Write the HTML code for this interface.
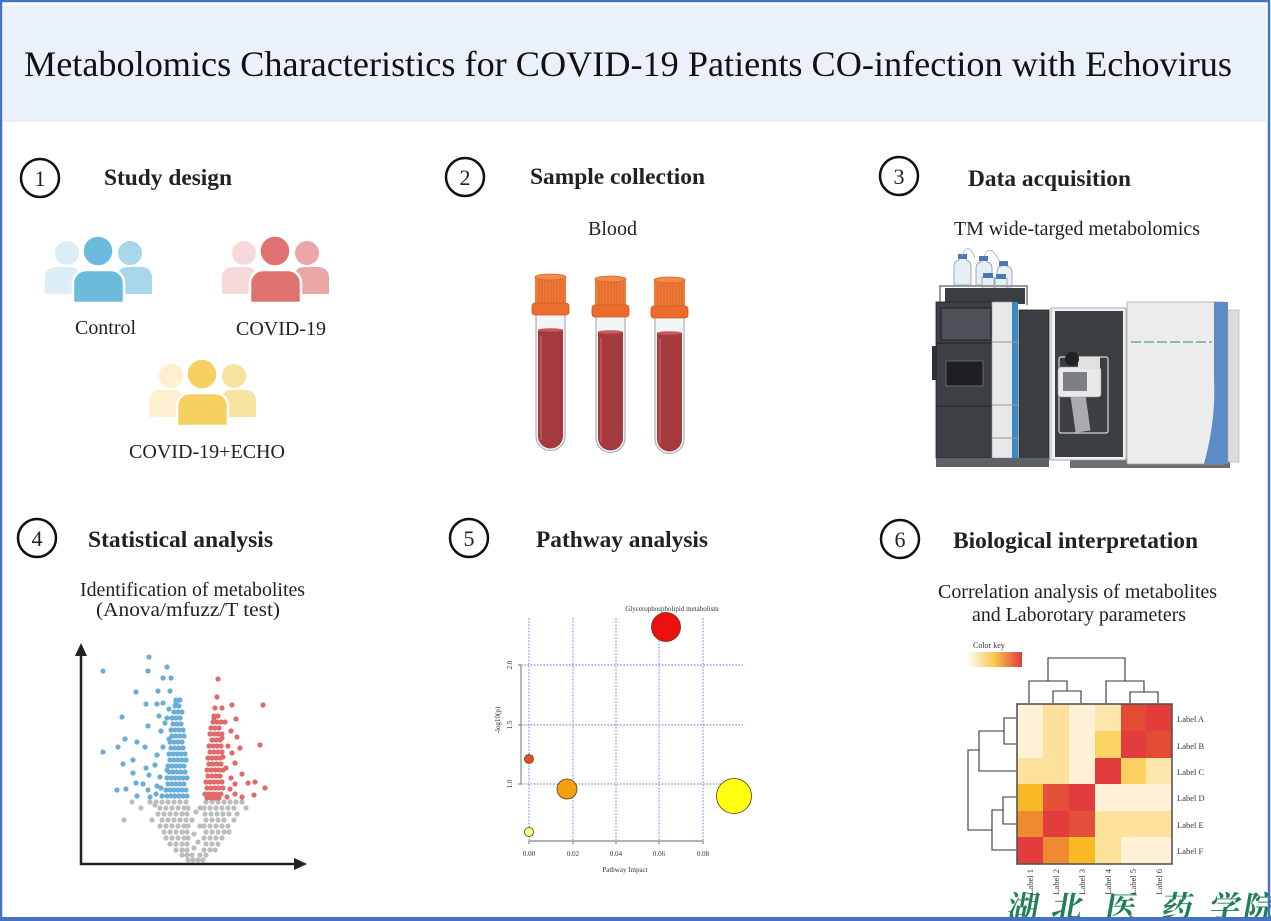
<!DOCTYPE html>
<html><head><meta charset="utf-8"><style>
html,body{margin:0;padding:0;background:#fff;}
svg{display:block;}
text{font-family:"Liberation Serif","Noto Serif CJK SC",serif;fill:#111;}
.h{font-weight:bold;font-size:23px;fill:#222;}
.t{font-size:20px;fill:#222;}
.n{font-size:22px;fill:#222;}
.s{font-size:7px;fill:#333;}
.l{font-size:8.5px;fill:#333;}
</style></head><body>
<svg width="1271" height="921" viewBox="0 0 1271 921" xmlns="http://www.w3.org/2000/svg">
<rect x="0" y="0" width="1271" height="921" fill="#fff"/>
<!-- header -->
<rect x="3" y="5" width="1263" height="117" fill="#eaf1fa"/>
<text x="24" y="76" font-size="36" textLength="1208" lengthAdjust="spacingAndGlyphs" style="fill:#111">Metabolomics Characteristics for COVID-19 Patients CO-infection with Echovirus</text>

<!-- section numbers -->
<g fill="none" stroke="#111" stroke-width="2.5">
<circle cx="40" cy="178" r="19"/><circle cx="465" cy="177" r="19"/><circle cx="899" cy="176" r="19"/>
<circle cx="37" cy="538" r="19"/><circle cx="469" cy="538" r="19"/><circle cx="900" cy="539" r="19"/>
</g>
<g class="n" text-anchor="middle">
<text class="n" x="40" y="186">1</text><text class="n" x="465" y="185">2</text><text class="n" x="899" y="184">3</text>
<text class="n" x="37" y="546">4</text><text class="n" x="469" y="546">5</text><text class="n" x="900" y="547">6</text>
</g>
<text class="h" x="104" y="185" textLength="128" lengthAdjust="spacingAndGlyphs">Study design</text>
<text class="h" x="530" y="184" textLength="175" lengthAdjust="spacingAndGlyphs">Sample collection</text>
<text class="h" x="968" y="186" textLength="163" lengthAdjust="spacingAndGlyphs">Data acquisition</text>
<text class="h" x="88" y="547" textLength="185" lengthAdjust="spacingAndGlyphs">Statistical analysis</text>
<text class="h" x="536" y="547" textLength="172" lengthAdjust="spacingAndGlyphs">Pathway analysis</text>
<text class="h" x="953" y="548" textLength="245" lengthAdjust="spacingAndGlyphs">Biological interpretation</text>

<text class="t" x="588" y="235" textLength="49" lengthAdjust="spacingAndGlyphs">Blood</text>
<text class="t" x="954" y="235" textLength="246" lengthAdjust="spacingAndGlyphs">TM wide-targed metabolomics</text>
<text class="t" x="75" y="334" textLength="61" lengthAdjust="spacingAndGlyphs">Control</text>
<text class="t" x="236" y="335" textLength="90" lengthAdjust="spacingAndGlyphs">COVID-19</text>
<text class="t" x="129" y="458" textLength="156" lengthAdjust="spacingAndGlyphs">COVID-19+ECHO</text>
<text class="t" x="80" y="596" textLength="225" lengthAdjust="spacingAndGlyphs">Identification of metabolites</text>
<text class="t" x="96" y="616" textLength="184" lengthAdjust="spacingAndGlyphs">(Anova/mfuzz/T test)</text>
<text class="t" x="938" y="598" textLength="279" lengthAdjust="spacingAndGlyphs">Correlation analysis of metabolites</text>
<text class="t" x="972" y="621" textLength="214" lengthAdjust="spacingAndGlyphs">and Laborotary parameters</text>

<!-- people icons: Control -->
<g>
 <path fill="#dcedf6" d="M45,294 V277 A10,10 0 0 1 55,267 H70 A10,10 0 0 1 80,277 V294 Z"/>
 <circle fill="#dcedf6" cx="67" cy="253" r="13" stroke="#fff" stroke-width="2"/>
 <path fill="#a8d6ea" d="M117,294 V277 A10,10 0 0 1 127,267 H142 A10,10 0 0 1 152,277 V294 Z"/>
 <circle fill="#a8d6ea" cx="130" cy="253" r="13" stroke="#fff" stroke-width="2"/>
 <path fill="#6cbbdd" d="M73,303 V283 A13,13 0 0 1 86,270 H111 A13,13 0 0 1 124,283 V303 Z" stroke="#fff" stroke-width="2.5"/>
 <circle fill="#6cbbdd" cx="98" cy="251" r="15.5" stroke="#fff" stroke-width="2.5"/>
</g>
<!-- COVID-19 -->
<g transform="translate(177,0)">
 <path fill="#f6dada" d="M45,294 V277 A10,10 0 0 1 55,267 H70 A10,10 0 0 1 80,277 V294 Z"/>
 <circle fill="#f6dada" cx="67" cy="253" r="13" stroke="#fff" stroke-width="2"/>
 <path fill="#eba6a6" d="M117,294 V277 A10,10 0 0 1 127,267 H142 A10,10 0 0 1 152,277 V294 Z"/>
 <circle fill="#eba6a6" cx="130" cy="253" r="13" stroke="#fff" stroke-width="2"/>
 <path fill="#e07272" d="M73,303 V283 A13,13 0 0 1 86,270 H111 A13,13 0 0 1 124,283 V303 Z" stroke="#fff" stroke-width="2.5"/>
 <circle fill="#e07272" cx="98" cy="251" r="15.5" stroke="#fff" stroke-width="2.5"/>
</g>
<!-- ECHO -->
<g transform="translate(104,123)">
 <path fill="#fcf0d0" d="M45,294 V277 A10,10 0 0 1 55,267 H70 A10,10 0 0 1 80,277 V294 Z"/>
 <circle fill="#fcf0d0" cx="67" cy="253" r="13" stroke="#fff" stroke-width="2"/>
 <path fill="#f8e2a0" d="M117,294 V277 A10,10 0 0 1 127,267 H142 A10,10 0 0 1 152,277 V294 Z"/>
 <circle fill="#f8e2a0" cx="130" cy="253" r="13" stroke="#fff" stroke-width="2"/>
 <path fill="#f6d060" d="M73,303 V283 A13,13 0 0 1 86,270 H111 A13,13 0 0 1 124,283 V303 Z" stroke="#fff" stroke-width="2.5"/>
 <circle fill="#f6d060" cx="98" cy="251" r="15.5" stroke="#fff" stroke-width="2.5"/>
</g>

<!-- blood tubes -->
<defs>
<g id="tube">
 <path d="M536,312 V436 A14.5,14.5 0 0 0 565,436 V312 Z" fill="#f3f5f7" stroke="#a9b0b6" stroke-width="1.2"/>
 <path d="M538,330 V436 A12.5,12.5 0 0 0 563,436 V330 Z" fill="#a53a3e"/>
 <ellipse cx="550.5" cy="330" rx="12.5" ry="1.8" fill="#c75a5c"/>
 <line x1="541" y1="336" x2="541" y2="440" stroke="#c86464" stroke-width="1.3"/>
 <rect x="535" y="276" width="31" height="29" rx="2" fill="#f07a3a"/>
 <g stroke="#d8621f" stroke-width="0.8">
  <line x1="539" y1="280" x2="539" y2="303"/><line x1="542" y1="280" x2="542" y2="303"/><line x1="545" y1="280" x2="545" y2="303"/><line x1="548" y1="280" x2="548" y2="303"/><line x1="551" y1="280" x2="551" y2="303"/><line x1="554" y1="280" x2="554" y2="303"/><line x1="557" y1="280" x2="557" y2="303"/><line x1="560" y1="280" x2="560" y2="303"/><line x1="563" y1="280" x2="563" y2="303"/>
 </g>
 <ellipse cx="550.5" cy="277" rx="15.5" ry="3" fill="#f48a4a" stroke="#d8621f" stroke-width="0.8"/>
 <rect x="532" y="303" width="37" height="12" rx="3" fill="#ec6c2c" stroke="#d05a1a" stroke-width="0.8"/>
</g>
</defs>
<use href="#tube"/>
<use href="#tube" transform="translate(60,2)"/>
<use href="#tube" transform="translate(119,3)"/>

<!-- instrument -->
<g>
 <path d="M954,285 V266 Q954,261 959,260 V256 H966 V260 Q971,261 971,266 V285 Z" fill="#e6eef6" stroke="#8a9aa8" stroke-width="0.8"/>
 <rect x="958" y="254" width="9" height="5" fill="#4a78b0"/>
 <path d="M976,285 V268 Q976,263 981,262 V258 H987 V262 Q992,263 992,268 V285 Z" fill="#e6eef6" stroke="#8a9aa8" stroke-width="0.8"/>
 <rect x="979" y="256" width="9" height="5" fill="#4a78b0"/>
 <path d="M997,287 V272 Q997,267 1001,266 V263 H1007 V266 Q1012,267 1012,272 V287 Z" fill="#e6eef6" stroke="#8a9aa8" stroke-width="0.8"/>
 <rect x="999" y="261" width="9" height="5" fill="#4a78b0"/>
 <rect x="982" y="277" width="12" height="14" fill="#e6eef6" stroke="#8a9aa8" stroke-width="0.8"/>
 <rect x="983" y="273" width="10" height="5" fill="#4a78b0"/>
 <rect x="995" y="278" width="12" height="13" fill="#e6eef6" stroke="#8a9aa8" stroke-width="0.8"/>
 <rect x="996" y="274" width="10" height="5" fill="#4a78b0"/>
 <path d="M962,256 Q968,240 975,258 M984,256 Q990,242 1000,262" fill="none" stroke="#aab" stroke-width="0.8"/>
 <rect x="945" y="288" width="80" height="16" fill="#3a3d42"/>
 <path d="M940,305 V286 H1027 V305" fill="none" stroke="#999" stroke-width="2"/>
 <rect x="936" y="302" width="57" height="156" fill="#3c3f44" stroke="#222" stroke-width="0.8"/>
 <rect x="941" y="308" width="50" height="32" fill="#4d5056" stroke="#222" stroke-width="1"/>
 <line x1="936" y1="343" x2="993" y2="343" stroke="#222"/>
 <line x1="936" y1="406" x2="993" y2="406" stroke="#222"/>
 <rect x="946" y="361" width="37" height="25" fill="#1e1f22" stroke="#666" stroke-width="1"/>
 <rect x="932" y="346" width="5" height="34" fill="#2e3034"/>
 <rect x="992" y="302" width="21" height="156" fill="#e6e8ea" stroke="#999" stroke-width="0.6"/>
 <rect x="1012" y="302" width="6" height="156" fill="#3b8ac2"/>
 <line x1="992" y1="342" x2="1018" y2="342" stroke="#999"/>
 <line x1="992" y1="405" x2="1018" y2="405" stroke="#999"/>
 <line x1="992" y1="438" x2="1018" y2="438" stroke="#999"/>
 <rect x="1019" y="310" width="30" height="150" fill="#3a3d42" stroke="#222" stroke-width="0.8"/>
 <rect x="936" y="458" width="113" height="9" fill="#5e6166"/>
 <rect x="1070" y="458" width="160" height="10" fill="#6c6f74"/>
 <rect x="1051" y="308" width="75" height="152" fill="#f2f2f2" stroke="#999" stroke-width="0.8"/>
 <rect x="1055" y="311" width="68" height="146" fill="#3b3e43"/>
 <rect x="1059" y="357" width="49" height="76" rx="2" fill="none" stroke="#d8d8d8" stroke-width="1.2"/>
 <rect x="1070" y="392" width="15" height="40" fill="#a9abae" transform="rotate(-8 1077 392)"/>
 <rect x="1058" y="367" width="43" height="30" rx="3" fill="#e9e9ea" stroke="#999" stroke-width="0.6"/>
 <rect x="1063" y="372" width="24" height="19" fill="#7b7e82"/>
 <rect x="1078" y="357" width="22" height="12" fill="#e0e0e0"/>
 <circle cx="1072" cy="359" r="7" fill="#222"/>
 <rect x="1127" y="302" width="96" height="162" fill="#ececed" stroke="#aaa" stroke-width="0.8"/>
 <path d="M1214,302 H1228 V464 H1204 Q1216,420 1214,380 Z" fill="#5c8cc6"/>
 <rect x="1228" y="310" width="11" height="152" fill="#dcdcdd" stroke="#aaa" stroke-width="0.6"/>
 <line x1="1131" y1="342" x2="1212" y2="342" stroke="#4aa878" stroke-width="1.2" stroke-dasharray="10 3"/>
</g>

<!-- volcano -->
<g fill="none" stroke-linecap="round" stroke-width="5.2">
<path stroke="#bdbdbd" d="M132,802h0M150,802h0M156,802h0M162,802h0M168,802h0M174,802h0M180,802h0M186,802h0M206,802h0M212,802h0M218,802h0M224,802h0M230,802h0M236,802h0M242,802h0
M141,808h0M160,808h0M166,808h0M172,808h0M178,808h0M184,808h0M188,808h0M204,808h0M210,808h0M216,808h0M222,808h0M228,808h0M234,808h0M246,808h0
M158,814h0M164,814h0M170,814h0M176,814h0M182,814h0M187,814h0M205,814h0M211,814h0M217,814h0M223,814h0M229,814h0M237,814h0
M124,820h0M152,820h0M162,820h0M168,820h0M174,820h0M180,820h0M186,820h0M206,820h0M212,820h0M218,820h0M224,820h0M234,820h0
M160,826h0M166,826h0M172,826h0M178,826h0M184,826h0M188,826h0M204,826h0M210,826h0M216,826h0M222,826h0M228,826h0
M164,832h0M170,832h0M176,832h0M182,832h0M187,832h0M206,832h0M212,832h0M218,832h0M224,832h0M229,832h0
M166,838h0M172,838h0M178,838h0M184,838h0M188,838h0M204,838h0M210,838h0M216,838h0M222,838h0
M170,844h0M176,844h0M182,844h0M187,844h0M206,844h0M212,844h0M218,844h0
M176,850h0M182,850h0M187,850h0M204,850h0M210,850h0M215,850h0
M182,855h0M187,855h0M192,855h0M200,855h0M206,855h0M188,860h0M193,860h0M198,860h0M203,860h0
M155,805h0M200,808h0M196,812h0M192,820h0M200,826h0M194,834h0M198,842h0M194,848h0"/>
<path stroke="#6aaed6" d="M103,671h0M149,657h0M148,671h0M167,667h0M163,678h0M171,678h0M136,692h0M158,691h0M170,691h0M146,704h0M157,704h0M163,703h0M176,703h0M122,717h0M159,716h0M169,709h0M167,718h0M148,726h0M165,723h0M161,731h0M125,739h0M137,742h0M118,747h0M103,752h0M145,747h0M163,747h0M169,739h0M133,760h0M123,764h0M157,755h0M146,768h0M155,765h0M133,773h0M149,775h0M136,783h0M143,784h0M160,777h0M167,770h0M117,790h0M126,789h0M148,790h0M157,786h0M137,796h0M150,797h0M156,794h0M161,788h0M167,796h0M162,796h0
M176,700h0M180,700h0M175,706h0M179,706h0M174,712h0M178,712h0M182,712h0M172,718h0M176,718h0M180,718h0M173,724h0M177,724h0M181,724h0M171,730h0M175,730h0M179,730h0M183,730h0M172,736h0M176,736h0M180,736h0M184,736h0M170,742h0M174,742h0M178,742h0M182,742h0M171,748h0M175,748h0M179,748h0M183,748h0M169,754h0M173,754h0M177,754h0M181,754h0M185,754h0M170,760h0M174,760h0M178,760h0M182,760h0M186,760h0M168,766h0M172,766h0M176,766h0M180,766h0M184,766h0M169,772h0M173,772h0M177,772h0M181,772h0M185,772h0M167,778h0M171,778h0M175,778h0M179,778h0M183,778h0M187,778h0M168,784h0M172,784h0M176,784h0M180,784h0M184,784h0M166,790h0M170,790h0M174,790h0M178,790h0M182,790h0M186,790h0M167,796h0M171,796h0M175,796h0M179,796h0M183,796h0M187,796h0"/>
<path stroke="#e06a6a" d="M218,679h0M217,697h0M215,708h0M222,708h0M232,705h0M263,705h0M214,718h0M225,722h0M236,719h0M231,731h0M237,737h0M222,738h0M228,746h0M240,748h0M260,745h0M223,757h0M232,753h0M235,763h0M226,768h0M242,774h0M231,778h0M235,784h0M230,789h0M248,783h0M255,782h0M265,788h0M254,795h0M242,797h0M235,794h0M227,797h0M223,788h0
M214,716h0M218,716h0M213,722h0M217,722h0M221,722h0M211,728h0M215,728h0M219,728h0M210,734h0M214,734h0M218,734h0M222,734h0M212,740h0M216,740h0M220,740h0M209,746h0M213,746h0M217,746h0M221,746h0M210,752h0M214,752h0M218,752h0M222,752h0M208,758h0M212,758h0M216,758h0M220,758h0M209,764h0M213,764h0M217,764h0M221,764h0M207,770h0M211,770h0M215,770h0M219,770h0M223,770h0M208,776h0M212,776h0M216,776h0M220,776h0M206,782h0M210,782h0M214,782h0M218,782h0M222,782h0M207,788h0M211,788h0M215,788h0M219,788h0M223,788h0M205,794h0M209,794h0M213,794h0M217,794h0M221,794h0M207,798h0M211,798h0M215,798h0M219,798h0"/>
</g>
<g stroke="#222" stroke-width="2.5" fill="none">
<path d="M81,652 V864 H299"/>
</g>
<path d="M81,643 L75,656 L87,656 Z" fill="#222"/>
<path d="M307,864 L294,858 L294,870 Z" fill="#222"/>

<!-- pathway plot -->
<g stroke="#6a6ae8" stroke-width="0.9" stroke-dasharray="1.6 1.6" fill="none">
<line x1="529" y1="618" x2="529" y2="840"/><line x1="573" y1="618" x2="573" y2="840"/><line x1="616" y1="618" x2="616" y2="840"/><line x1="659" y1="618" x2="659" y2="840"/><line x1="703" y1="618" x2="703" y2="840"/>
<line x1="521" y1="665" x2="743" y2="665"/><line x1="521" y1="725" x2="743" y2="725"/><line x1="521" y1="784" x2="743" y2="784"/>
</g>
<g stroke="#888" stroke-width="1.2" fill="none">
<path d="M518,665 H521 V784 H518 M518,725 H521"/>
<path d="M529,844 V841 H703 V844 M573,841 V844 M616,841 V844 M659,841 V844"/>
</g>
<g class="s">
<text class="s" transform="translate(512,665) rotate(-90)" text-anchor="middle">2.0</text>
<text class="s" transform="translate(512,725) rotate(-90)" text-anchor="middle">1.5</text>
<text class="s" transform="translate(512,784) rotate(-90)" text-anchor="middle">1.0</text>
<text class="s" transform="translate(500,720) rotate(-90)" text-anchor="middle">-log10(p)</text>
<text class="s" x="529" y="856" text-anchor="middle">0.00</text>
<text class="s" x="573" y="856" text-anchor="middle">0.02</text>
<text class="s" x="616" y="856" text-anchor="middle">0.04</text>
<text class="s" x="659" y="856" text-anchor="middle">0.06</text>
<text class="s" x="703" y="856" text-anchor="middle">0.08</text>
<text class="s" x="625" y="872" text-anchor="middle">Pathway Impact</text>
<text class="s" x="672" y="611" text-anchor="middle">Glycerophospholipid metabolism</text>
</g>
<g stroke="#5a3a10" stroke-width="0.8">
<circle cx="666" cy="627" r="14.5" fill="#ee1010"/>
<circle cx="734" cy="796" r="17.5" fill="#ffff10"/>
<circle cx="567" cy="789" r="10" fill="#f6a010"/>
<circle cx="529" cy="759" r="4.5" fill="#e8501a"/>
<circle cx="529" cy="832" r="4.5" fill="#ffff80"/>
</g>

<!-- heatmap -->
<defs><linearGradient id="ck" x1="0" x2="1" y1="0" y2="0">
<stop offset="0" stop-color="#fffcf0"/><stop offset="0.5" stop-color="#f9c64a"/><stop offset="1" stop-color="#e03a3a"/></linearGradient></defs>
<text class="s" x="973" y="648" style="font-size:8px">Color key</text>
<rect x="968" y="652" width="54" height="15" fill="url(#ck)"/>
<g>
<rect x="1017" y="704" width="26" height="27" fill="#fef1d6"/><rect x="1043" y="704" width="26" height="27" fill="#fde29c"/><rect x="1069" y="704" width="26" height="27" fill="#fef1d6"/><rect x="1095" y="704" width="26" height="27" fill="#fde6ae"/><rect x="1121" y="704" width="25" height="27" fill="#e24c32"/><rect x="1146" y="704" width="26" height="27" fill="#e23c3c"/>
<rect x="1017" y="731" width="26" height="27" fill="#fef1d6"/><rect x="1043" y="731" width="26" height="27" fill="#fde29c"/><rect x="1069" y="731" width="26" height="27" fill="#fef1d6"/><rect x="1095" y="731" width="26" height="27" fill="#fcd466"/><rect x="1121" y="731" width="25" height="27" fill="#e23c3c"/><rect x="1146" y="731" width="26" height="27" fill="#e24c32"/>
<rect x="1017" y="758" width="26" height="26" fill="#fde29c"/><rect x="1043" y="758" width="26" height="26" fill="#fde29c"/><rect x="1069" y="758" width="26" height="26" fill="#fef1d6"/><rect x="1095" y="758" width="26" height="26" fill="#e23c3c"/><rect x="1121" y="758" width="25" height="26" fill="#fcd060"/><rect x="1146" y="758" width="26" height="26" fill="#fde6ae"/>
<rect x="1017" y="784" width="26" height="27" fill="#f9b925"/><rect x="1043" y="784" width="26" height="27" fill="#e5503a"/><rect x="1069" y="784" width="26" height="27" fill="#e23c3c"/><rect x="1095" y="784" width="77" height="27" fill="#fef1d6"/>
<rect x="1017" y="811" width="26" height="26" fill="#ee8a30"/><rect x="1043" y="811" width="26" height="26" fill="#e23c3c"/><rect x="1069" y="811" width="26" height="26" fill="#e5503a"/><rect x="1095" y="811" width="77" height="26" fill="#fde29c"/>
<rect x="1017" y="837" width="26" height="27" fill="#e23c3c"/><rect x="1043" y="837" width="26" height="27" fill="#ee8a30"/><rect x="1069" y="837" width="26" height="27" fill="#f9b925"/><rect x="1095" y="837" width="26" height="27" fill="#fde29c"/><rect x="1121" y="837" width="51" height="27" fill="#fef1d6"/>
</g>
<rect x="1017" y="704" width="155" height="160" fill="none" stroke="#555" stroke-width="1.6"/>
<g stroke="#333" stroke-width="1.1" fill="none">
<path d="M1130,703 V692 H1158 V703"/>
<path d="M1106,703 V681 H1144 V692"/>
<path d="M1053,703 V691 H1081 V703"/>
<path d="M1029,703 V681 H1067 V691"/>
<path d="M1048,681 V658 H1125 V681"/>
<path d="M1016,718 H1004 V744 H1016"/>
<path d="M1004,731 H979 V771 H1016"/>
<path d="M1016,797 H1003 V824 H1016"/>
<path d="M1003,810 H992 V850 H1016"/>
<path d="M979,750 H968 V830 H992"/>
</g>
<g class="l">
<text class="l" x="1177" y="722">Label A</text>
<text class="l" x="1177" y="749">Label B</text>
<text class="l" x="1177" y="775">Label C</text>
<text class="l" x="1177" y="801">Label D</text>
<text class="l" x="1177" y="828">Label E</text>
<text class="l" x="1177" y="854">Label F</text>
<text class="l" transform="translate(1033,869) rotate(-90)" text-anchor="end">Label 1</text>
<text class="l" transform="translate(1059,869) rotate(-90)" text-anchor="end">Label 2</text>
<text class="l" transform="translate(1085,869) rotate(-90)" text-anchor="end">Label 3</text>
<text class="l" transform="translate(1111,869) rotate(-90)" text-anchor="end">Label 4</text>
<text class="l" transform="translate(1136,869) rotate(-90)" text-anchor="end">Label 5</text>
<text class="l" transform="translate(1162,869) rotate(-90)" text-anchor="end">Label 6</text>
</g>

<!-- watermark -->
<g style="font-family:'Noto Serif CJK SC','Noto Sans CJK SC',serif;font-size:31px;font-weight:bold">
<text x="1006" y="918" style="fill:#1f7f55" transform="skewX(-10) translate(162,0)">湖</text>
<text x="1050" y="918" style="fill:#1f7f55" transform="skewX(-10) translate(162,0)">北</text>
<text x="1104" y="918" style="fill:#1f7f55" transform="skewX(-10) translate(162,0)">医</text>
<text x="1160" y="918" style="fill:#1f7f55" transform="skewX(-10) translate(162,0)">药</text>
<text x="1208" y="918" style="fill:#1f7f55" transform="skewX(-10) translate(162,0)">学</text>
<text x="1242" y="918" style="fill:#1f7f55" transform="skewX(-10) translate(162,0)">院</text>
</g>

<!-- border -->
<rect x="1" y="1" width="1268" height="918" fill="none" stroke="#4472c4" stroke-width="2.5"/>
<rect x="0" y="917" width="1271" height="4" fill="#4472c4"/>
</svg>
</body></html>
